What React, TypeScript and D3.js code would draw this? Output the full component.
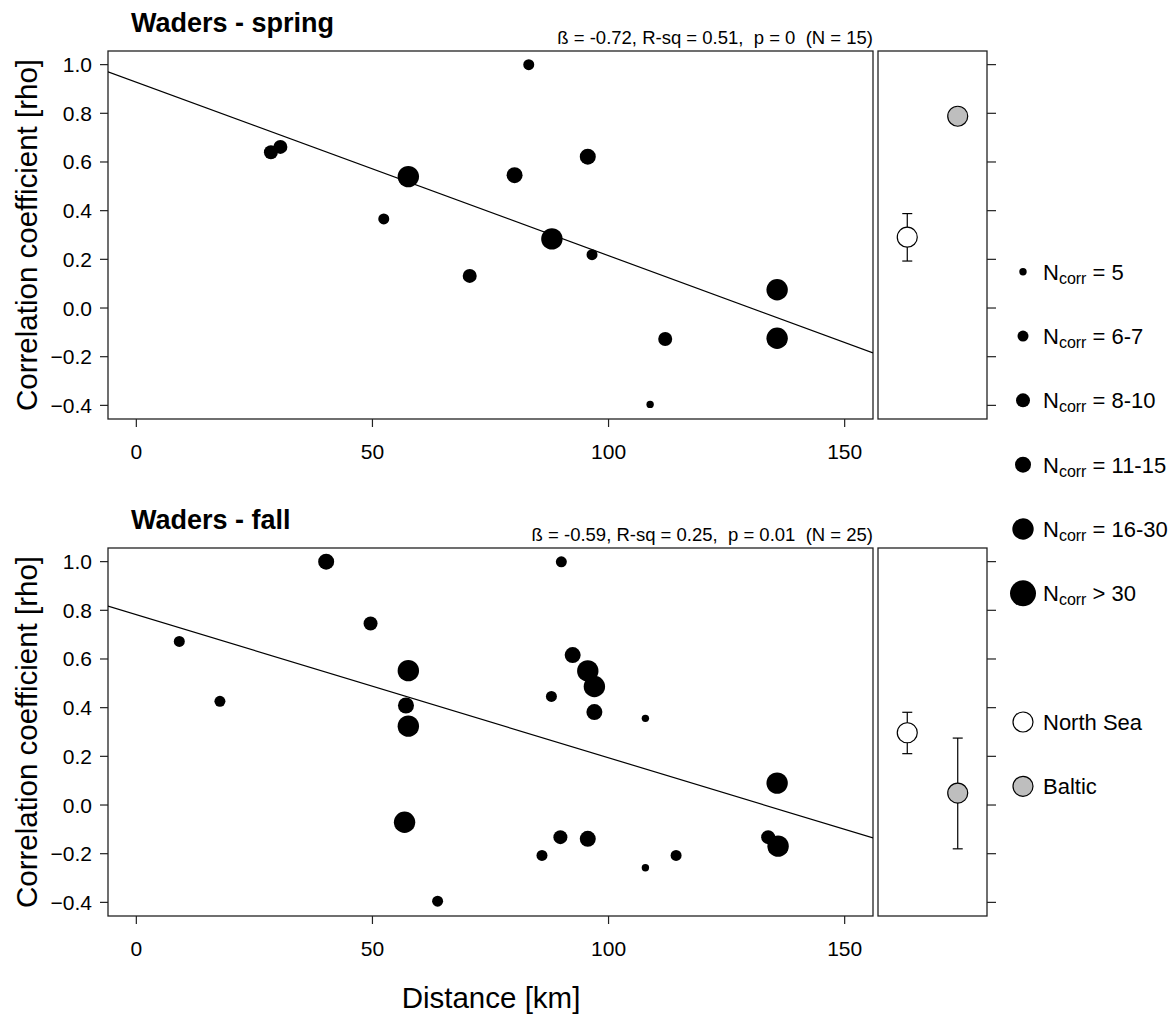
import React from "react";
import * as d3 from "d3";

// ---------- data ----------
const springDist = [28.5, 30.5, 57.6, 52.4, 70.6, 83.1, 80.1, 95.6, 88.0, 96.5, 112.0, 135.7, 135.7, 108.8];
const springRho = [0.64, 0.662, 0.54, 0.366, 0.132, 1.0, 0.546, 0.622, 0.284, 0.219, -0.127, 0.075, -0.124, -0.396];
const springClass = [2, 2, 4, 1, 2, 1, 3, 3, 4, 1, 2, 4, 4, 0];

const fallDist = [40.2, 49.6, 9.1, 17.7, 57.6, 57.1, 57.6, 56.8, 63.8, 90.0, 92.4, 95.6, 97.0, 87.9, 97.0, 107.8, 135.7, 89.8, 95.6, 85.9, 107.8, 114.3, 133.8, 135.9];
const fallRho = [1.0, 0.746, 0.672, 0.426, 0.552, 0.409, 0.324, -0.071, -0.395, 0.999, 0.616, 0.551, 0.487, 0.446, 0.382, 0.356, 0.09, -0.132, -0.139, -0.207, -0.258, -0.207, -0.132, -0.169];
const fallClass = [3, 2, 1, 1, 4, 3, 4, 4, 1, 1, 3, 4, 4, 1, 3, 0, 4, 2, 3, 1, 0, 1, 2, 4];

const regions = ["North Sea", "Baltic"];
const regionFill = ["#ffffff", "#bebebe"];
const springMean = [0.291, 0.788];
const springLo: (number | null)[] = [0.193, null];
const springHi: (number | null)[] = [0.388, null];
const fallMean = [0.297, 0.049];
const fallLo: (number | null)[] = [0.211, -0.18];
const fallHi: (number | null)[] = [0.381, 0.275];

const springFit = { intercept: 0.928, slope: -0.00713 };
const fallFit = { intercept: 0.782, slope: -0.00588 };
const springStats = "ß = -0.72, R-sq = 0.51,  p = 0  (N = 15)";
const fallStats = "ß = -0.59, R-sq = 0.25,  p = 0.01  (N = 25)";

const sizeClasses = ["= 5", "= 6-7", "= 8-10", "= 11-15", "= 16-30", "> 30"];
const xTicks = [0, 50, 100, 150];
const yTicks = [-0.4, -0.2, 0, 0.2, 0.4, 0.6, 0.8, 1.0];

// ---------- layout ----------
const W = 1174, H = 1014;
const FONT = "'Liberation Sans', Arial, sans-serif";
const mainL = 108, mainR = 873, sideL = 878, sideR = 987;
const panels = [
  { title: "Waders - spring", stats: springStats, top: 51, bottom: 419, dist: springDist, rho: springRho, cls: springClass, fit: springFit, mean: springMean, lo: springLo, hi: springHi },
  { title: "Waders - fall", stats: fallStats, top: 548, bottom: 916, dist: fallDist, rho: fallRho, cls: fallClass, fit: fallFit, mean: fallMean, lo: fallLo, hi: fallHi },
];

const x = d3.scaleLinear().domain([-6, 156]).range([mainL, mainR]);
const xs = d3.scaleLinear().domain([0.42, 2.58]).range([sideL, sideR]);
const rScale = d3.scaleOrdinal<number, number>().domain([0, 1, 2, 3, 4, 5]).range([3.7, 5.5, 7, 8, 10.7, 13]);
const fmt = d3.format(".1f");

function Panel({ p, idx }: { p: typeof panels[0]; idx: number }) {
  const y = d3.scaleLinear().domain([-0.456, 1.056]).range([p.bottom, p.top]);
  const clipId = `clip${idx}`;
  const x0 = -6, x1 = 156;
  const line = d3.line<number>().x((d) => x(d)).y((d) => y(p.fit.intercept + p.fit.slope * d));
  return (
    <g>
      <defs>
        <clipPath id={clipId}>
          <rect x={mainL} y={p.top} width={mainR - mainL} height={p.bottom - p.top} />
        </clipPath>
      </defs>
      <text x={131} y={p.top - 19} fontFamily={FONT} fontWeight="bold" fontSize={27}>{p.title}</text>
      <text x={mainR} y={p.top - 7} fontFamily={FONT} fontSize={18.5} textAnchor="end" style={{ whiteSpace: "pre" }}>{p.stats}</text>
      {/* main box */}
      <rect x={mainL} y={p.top} width={mainR - mainL} height={p.bottom - p.top} fill="none" stroke="#222" strokeWidth={1.3} />
      <path d={line([x0, x1]) || ""} fill="none" stroke="#000" strokeWidth={1.2} clipPath={`url(#${clipId})`} />
      {p.dist.map((d, i) => (
        <circle key={i} cx={x(d)} cy={y(p.rho[i])} r={rScale(p.cls[i])} fill="#000" />
      ))}
      {/* y axis */}
      {yTicks.map((t) => (
        <g key={t}>
          <line x1={mainL - 8} x2={mainL} y1={y(t)} y2={y(t)} stroke="#222" strokeWidth={1.2} />
          <text x={92} y={y(t) + 7.5} textAnchor="end" fontFamily={FONT} fontSize={21}>{fmt(t)}</text>
          <line x1={sideR} x2={sideR + 9} y1={y(t)} y2={y(t)} stroke="#222" strokeWidth={1.2} />
        </g>
      ))}
      {/* x axis */}
      {xTicks.map((t) => (
        <g key={t}>
          <line x1={x(t)} x2={x(t)} y1={p.bottom} y2={p.bottom + 8} stroke="#222" strokeWidth={1.2} />
          <text x={x(t)} y={p.bottom + 40} textAnchor="middle" fontFamily={FONT} fontSize={21}>{t}</text>
        </g>
      ))}
      <text transform={`translate(37,${(p.top + p.bottom) / 2}) rotate(-90)`} textAnchor="middle" fontFamily={FONT} fontSize={29.5}>Correlation coefficient [rho]</text>
      {/* side panel */}
      <rect x={sideL} y={p.top} width={sideR - sideL} height={p.bottom - p.top} fill="none" stroke="#222" strokeWidth={1.3} />
      {regions.map((r, i) => {
        const cx = xs(i + 1);
        const lo = p.lo[i], hi = p.hi[i];
        return (
          <g key={r}>
            {lo !== null && hi !== null && (
              <g stroke="#000" strokeWidth={1.2}>
                <line x1={cx} x2={cx} y1={y(lo)} y2={y(hi)} />
                <line x1={cx - 5} x2={cx + 5} y1={y(lo)} y2={y(lo)} />
                <line x1={cx - 5} x2={cx + 5} y1={y(hi)} y2={y(hi)} />
              </g>
            )}
            <circle cx={cx} cy={y(p.mean[i])} r={10} fill={regionFill[i]} stroke="#000" strokeWidth={1.2} />
          </g>
        );
      })}
    </g>
  );
}

function Legend() {
  const rowY = d3.scaleLinear().domain([0, 8]).range([271.7, 786.3]);
  const sx = 1023, tx = 1043;
  return (
    <g fontFamily={FONT}>
      {sizeClasses.map((s, i) => (
        <g key={s}>
          <circle cx={sx} cy={rowY(i)} r={rScale(i)} fill="#000" />
          <text x={tx} y={rowY(i) + 8} fontSize={22}>
            N<tspan fontSize={16} dy={4}>corr</tspan><tspan dy={-4} fontSize={22}>{" " + s}</tspan>
          </text>
        </g>
      ))}
      {regions.map((r, i) => (
        <g key={r}>
          <circle cx={sx} cy={rowY(7 + i)} r={10} fill={regionFill[i]} stroke="#000" strokeWidth={1.2} />
          <text x={tx} y={rowY(7 + i) + 8} fontSize={22}>{r}</text>
        </g>
      ))}
    </g>
  );
}

export default function App() {
  return (
    <svg width={W} height={H} style={{ position: "absolute", left: 0, top: 0, background: "#fff" }}>
      <rect width={W} height={H} fill="#fff" />
      {panels.map((p, i) => <Panel key={i} p={p} idx={i} />)}
      <Legend />
      <text x={491} y={1008} textAnchor="middle" fontFamily={FONT} fontSize={29.5}>Distance [km]</text>
    </svg>
  );
}
